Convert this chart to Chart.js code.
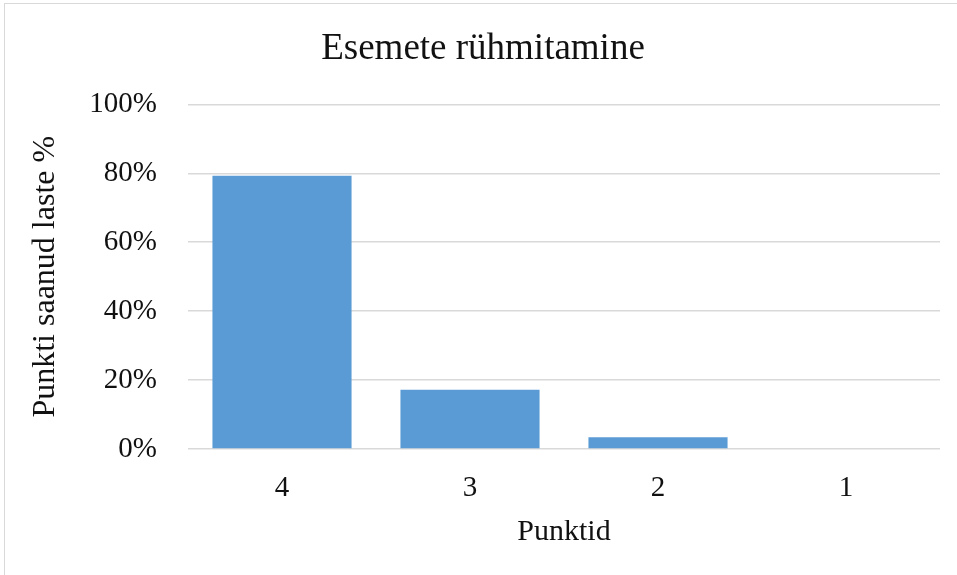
<!DOCTYPE html>
<html>
<head>
<meta charset="utf-8">
<script src="https://cdn.jsdelivr.net/npm/chart.js@4.4.1/dist/chart.umd.min.js"></script>
<style>
  html, body { margin: 0; padding: 0; background: #fff; overflow: hidden; }
  #frame {
    position: absolute; left: 4px; top: 3px; width: 980px; height: 600px;
    border: 1px solid #d9d9d9; box-sizing: border-box;
  }
  #wrap { position: absolute; left: 0; top: 0; width: 957px; height: 575px; }
</style>
</head>
<body>
<div id="frame"></div>
<div id="wrap"><canvas id="chart" width="957" height="575"></canvas></div>
<script>
// andmed (laste osakaal protsentides)
const categories = ['4', '3', '2', '1'];
const percentValues = [79.3, 17.2, 3.4, 0];
const yTicks = [0, 20, 40, 60, 80, 100];

const chartTitle = 'Esemete rühmitamine';
const xTitle = 'Punktid';
const yTitle = 'Punkti saanud laste %';

const serif = "'Liberation Serif', 'Times New Roman', serif";

new Chart(document.getElementById('chart').getContext('2d'), {
  type: 'bar',
  data: {
    labels: categories,
    datasets: [{
      data: percentValues,
      backgroundColor: '#5b9bd5',
      borderWidth: 0,
      barPercentage: 0.74,
      categoryPercentage: 1
    }]
  },
  options: {
    responsive: false,
    animation: false,
    layout: { padding: { left: 26, right: 17, top: 27, bottom: 25 } },
    plugins: {
      legend: { display: false },
      tooltip: { enabled: false },
      title: {
        display: true,
        text: chartTitle,
        color: '#111',
        font: { family: serif, size: 37, weight: 'normal' },
        padding: { top: 0, bottom: 33 }
      }
    },
    scales: {
      y: {
        min: 0,
        max: 100,
        afterBuildTicks: (scale) => {
          scale.ticks = yTicks.map(v => ({ value: v }));
        },
        afterFit: (scale) => { scale.width = 162; },
        border: { display: false },
        grid: { color: '#d9d9d9', lineWidth: 1.5, drawTicks: false },
        ticks: {
          padding: 31,
          color: '#111',
          font: { family: serif, size: 29 },
          callback: (v) => v + '%'
        },
        title: {
          display: true,
          text: yTitle,
          color: '#111',
          font: { family: serif, size: 32 },
          padding: 0
        }
      },
      x: {
        afterFit: (scale) => { scale.height = 575 - 449 - 25; },
        border: { display: false },
        grid: { display: false, drawTicks: false },
        ticks: {
          padding: 22,
          color: '#111',
          font: { family: serif, size: 29 }
        },
        title: {
          display: true,
          text: xTitle,
          color: '#111',
          font: { family: serif, size: 30 },
          padding: 0
        }
      }
    }
  }
});
</script>
</body>
</html>
